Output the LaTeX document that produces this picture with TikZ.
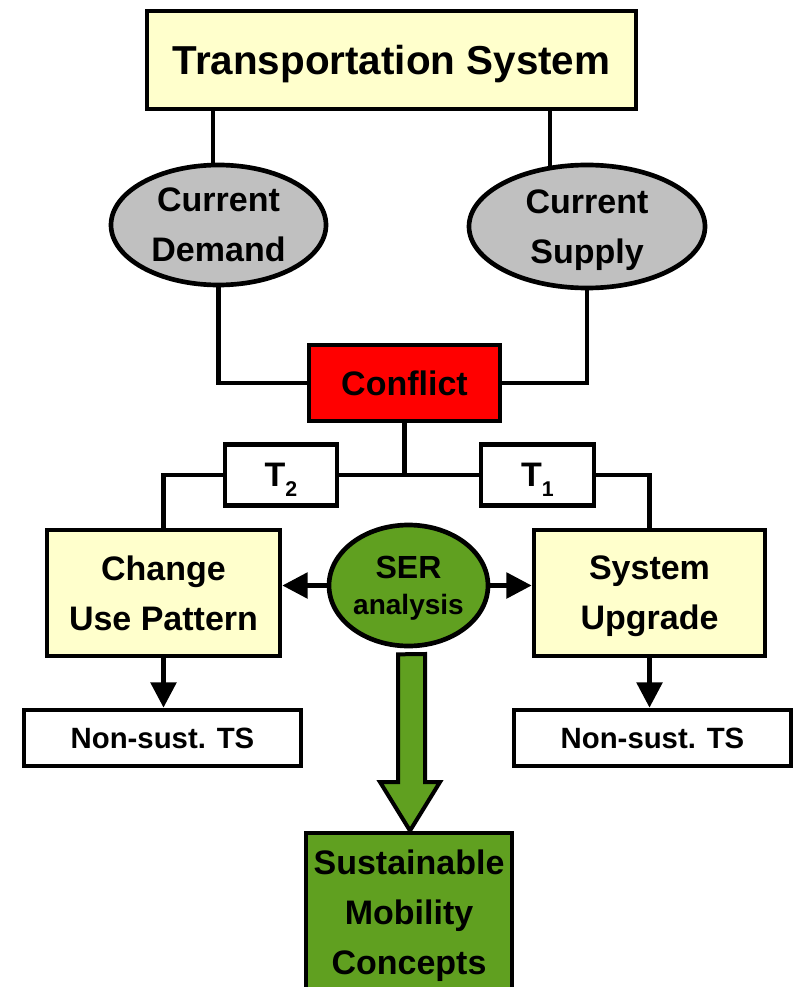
\documentclass[tikz,border=0pt]{standalone}
\usepackage{fontspec}
\setmainfont{Liberation Sans}
\usetikzlibrary{arrows.meta,backgrounds,shapes.geometric}
\definecolor{boxyellow}{RGB}{255,255,204}
\definecolor{ovalgray}{RGB}{192,192,192}
\definecolor{sergreen}{RGB}{96,160,32}
\begin{document}
\begin{tikzpicture}[x=0.75pt,y=-0.75pt,
  base/.style={draw, line width=3.5pt, inner sep=0pt, align=center, text depth=0pt,
    font=\fontsize{25.5}{37.5}\selectfont\bfseries},
  rbox/.style={base, rectangle},
  obox/.style={base, ellipse},
  conn/.style={line width=3.5pt},
  arr/.style={conn, -{Triangle[length=19pt,width=19pt]}},
  bigarrow/.style={draw, line width=3pt, fill=sergreen, line join=miter}
]
\useasboundingbox (0,0) rectangle (795,987);
\clip (0,0) rectangle (795,987);

\node[rbox, fill=boxyellow, minimum width=366.75pt, minimum height=73.5pt,
      font=\fontsize{30.3}{36}\selectfont\bfseries] (ts) at (391.5,60) {Transportation System};
\node[obox, fill=ovalgray, minimum width=161.25pt, minimum height=90pt] (dem) at (218.5,225) {Current\\Demand};
\node[obox, fill=ovalgray, minimum width=177pt, minimum height=92.25pt] (sup) at (587,226.5) {Current\\Supply};
\node[rbox, fill=red, minimum width=143.25pt, minimum height=57pt] (conf) at (404.5,383) {Conflict};
\node[rbox, fill=white, minimum width=84pt, minimum height=45.75pt] (t2) at (281,475)
  {T\raisebox{-7pt}{\fontsize{16}{16}\selectfont 2}};
\node[rbox, fill=white, minimum width=84.75pt, minimum height=45.75pt] (t1) at (537.5,475)
  {T\raisebox{-7pt}{\fontsize{16}{16}\selectfont 1}};
\node[rbox, fill=boxyellow, minimum width=174.75pt, minimum height=94.5pt] (chg) at (163.5,593) {Change\\Use Pattern};
\node[rbox, fill=boxyellow, minimum width=173.25pt, minimum height=94.5pt] (sys) at (649.5,593) {System\\Upgrade};
\node[obox, fill=sergreen, minimum width=119.25pt, minimum height=90.75pt,
      font=\fontsize{24}{27}\selectfont\bfseries] (ser) at (408.5,585.5)
  {SER\\{\fontsize{21}{27}\selectfont analysis}};
\node[rbox, fill=white, minimum width=207.75pt, minimum height=42pt,
      font=\fontsize{22}{26}\selectfont\bfseries] (ns1) at (162.5,738) {Non-sust. TS};
\node[rbox, fill=white, minimum width=207.75pt, minimum height=42pt,
      font=\fontsize{22}{26}\selectfont\bfseries] (ns2) at (652.5,738) {Non-sust. TS};
\node[rbox, fill=sergreen, minimum width=154.5pt, minimum height=118.5pt] (sus) at (409,912)
  {Sustainable\\Mobility\\Concepts};

\coordinate (rtop) at (550,100);
\coordinate (rbot) at (550,200);

\begin{scope}[on background layer]
  \draw[conn] (ts.south -| 213,0) -- (213,200);
  \draw[conn] (rtop) -- (rbot);
  \draw[conn] (dem.south) |- (conf.west);
  \draw[conn] (sup.south) |- (conf.east);
  \draw[conn] (conf.south) -- (conf.south |- t1.center);
  \draw[conn] (chg.north) |- (t1.center);
  \draw[conn] (sys.north) |- (t2.center);
\end{scope}

\draw[arr] (ser.west) -- (ser.west -| chg.east);
\draw[arr] (ser.east) -- (ser.east -| sys.west);
\draw[arr] (chg.south) -- (chg.south |- ns1.north);
\draw[arr] (sys.south) -- (sys.south |- ns2.north);

\draw[bigarrow] (ser.south -| 398,0) ++(0,6) -- (398,782) -- (380,782) -- (sus.north -| 410,0)
  -- (440,782) -- (425,782) -- (425,654) -- cycle;
\end{tikzpicture}
\end{document}
